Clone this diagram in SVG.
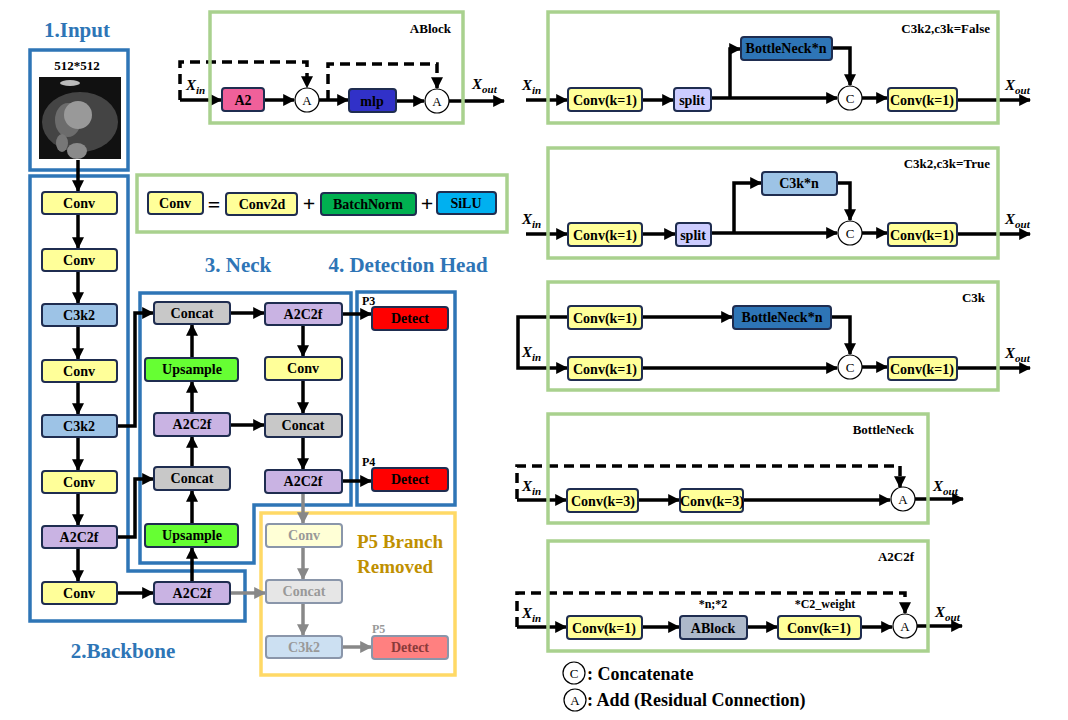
<svg xmlns="http://www.w3.org/2000/svg" width="1068" height="720" viewBox="0 0 1068 720" font-family="'Liberation Serif','Times New Roman','DejaVu Serif',serif">
<style>
text{font-family:"Liberation Serif","Times New Roman","DejaVu Serif",serif;font-weight:bold;fill:#000}
.n{stroke:#1f2d50;stroke-width:2}
.t{font-size:14px;text-anchor:middle}
.f{stroke:#8a96aa;stroke-width:2}
.ft{font-size:14px;text-anchor:middle;fill:#999}
.sec{font-size:21px;fill:#2E75B6;text-anchor:middle}
.bb{fill:none;stroke:#2E75B6;stroke-width:3.5}
.gb{fill:none;stroke:#A9D18E;stroke-width:3.5}
.ttl{font-size:13px;text-anchor:end}
.c{fill:none;stroke:#000;stroke-width:3.5}
.cg{fill:none;stroke:#888;stroke-width:3.5}
.d{fill:none;stroke:#000;stroke-width:3.5;stroke-dasharray:10 6}
.ci{fill:#fff;stroke:#000;stroke-width:1.2}
.ct{font-size:13px;font-weight:normal;text-anchor:middle}
.x{font-size:15px;font-style:italic}
.conv{fill:#FFFF99}.c3{fill:#9DC3E6}.a2{fill:#C9B3E3}.cat{fill:#C8C8C8}.up{fill:#66FF33}.det{fill:#FF0000}
</style>
<defs>
<marker id="ah" viewBox="0 0 10 10" refX="9" refY="5" markerUnits="userSpaceOnUse" markerWidth="12" markerHeight="12" orient="auto"><path d="M0,0L10,5L0,10z" fill="#000"/></marker>
<marker id="ag" viewBox="0 0 10 10" refX="9" refY="5" markerUnits="userSpaceOnUse" markerWidth="12" markerHeight="12" orient="auto"><path d="M0,0L10,5L0,10z" fill="#888"/></marker>
</defs>

<text class="sec" x="77" y="37">1.Input</text>
<text class="sec" x="123" y="658">2.Backbone</text>
<text class="sec" x="238" y="272">3. Neck</text>
<text class="sec" x="408" y="272">4. Detection Head</text>
<rect class="bb" x="30" y="50" width="98" height="120"/>
<path class="bb" d="M30,176H128V571H245V621H30Z"/>
<path class="bb" d="M140,293H351V505H254V563H140Z"/>
<rect class="bb" x="357" y="292" width="98" height="213"/>
<rect x="261" y="513" width="194" height="162" fill="none" stroke="#FFD966" stroke-width="3.5"/>

<g id="input">
<text x="77" y="70" font-size="13" text-anchor="middle">512*512</text>
<rect x="39" y="77" width="82" height="82" fill="#111"/>
<ellipse cx="80" cy="122" rx="38" ry="30" fill="#444"/>
<ellipse cx="68" cy="120" rx="13" ry="17" fill="#6c6c6c"/>
<circle cx="78" cy="115" r="14" fill="#999"/>
<ellipse cx="77" cy="151" rx="10" ry="8" fill="#8a8a8a"/>
<ellipse cx="70" cy="83" rx="10" ry="3" fill="#bbb"/>
<ellipse cx="62" cy="143" rx="6" ry="9" fill="#777"/>
</g>

<g id="connectors">
<path class="c" marker-end="url(#ah)" d="M78,160V191"/>
<path class="c" marker-end="url(#ah)" d="M78,214V248"/>
<path class="c" marker-end="url(#ah)" d="M78,271V303"/>
<path class="c" marker-end="url(#ah)" d="M78,326V359"/>
<path class="c" marker-end="url(#ah)" d="M78,382V414"/>
<path class="c" marker-end="url(#ah)" d="M78,437V470"/>
<path class="c" marker-end="url(#ah)" d="M78,493V525"/>
<path class="c" marker-end="url(#ah)" d="M78,548V581"/>
<path class="c" marker-end="url(#ah)" d="M117,426H135V313H153"/>
<path class="c" marker-end="url(#ah)" d="M117,537H135V479H153"/>
<path class="c" marker-end="url(#ah)" d="M117,593H153"/>
<path class="c" marker-end="url(#ah)" d="M192,582V548"/>
<path class="c" marker-end="url(#ah)" d="M192,524V491"/>
<path class="c" marker-end="url(#ah)" d="M192,467V437"/>
<path class="c" marker-end="url(#ah)" d="M192,413V382"/>
<path class="c" marker-end="url(#ah)" d="M192,358V325"/>
<path class="c" marker-end="url(#ah)" d="M230,313H264"/>
<path class="c" marker-end="url(#ah)" d="M230,425H264"/>
<path class="c" marker-end="url(#ah)" d="M303,325V356"/>
<path class="c" marker-end="url(#ah)" d="M303,380V413"/>
<path class="c" marker-end="url(#ah)" d="M303,437V469"/>
<path class="c" marker-end="url(#ah)" d="M342,314H371"/>
<path class="c" marker-end="url(#ah)" d="M342,481H371"/>
<path class="cg" marker-end="url(#ag)" d="M303,493V523"/>
<path class="cg" marker-end="url(#ag)" d="M303,547V579"/>
<path class="cg" marker-end="url(#ag)" d="M303,603V635"/>
<path class="cg" marker-end="url(#ag)" d="M342,647H371"/>
<path class="cg" marker-end="url(#ag)" d="M230,593H265"/>
<path class="d" marker-end="url(#ah)" d="M180,100V62H307V87"/>
<path class="c" marker-end="url(#ah)" d="M180,100H221"/>
<path class="c" marker-end="url(#ah)" d="M265,100H294"/>
<path class="c" marker-end="url(#ah)" d="M319,100H348"/>
<path class="d" marker-end="url(#ah)" d="M328,100V64H437V88"/>
<path class="c" marker-end="url(#ah)" d="M397,101H424"/>
<path class="c" marker-end="url(#ah)" d="M449,101H504"/>
<path class="c" marker-end="url(#ah)" d="M526,100H567"/>
<path class="c" marker-end="url(#ah)" d="M642,100H673"/>
<path class="c" marker-end="url(#ah)" d="M711,98H837"/>
<path class="c" marker-end="url(#ah)" d="M730,98V49H740"/>
<path class="c" marker-end="url(#ah)" d="M832,48H850V85"/>
<path class="c" marker-end="url(#ah)" d="M862,98H887"/>
<path class="c" marker-end="url(#ah)" d="M957,100H1030"/>
<path class="c" marker-end="url(#ah)" d="M526,234H567"/>
<path class="c" marker-end="url(#ah)" d="M642,234H675"/>
<path class="c" marker-end="url(#ah)" d="M711,233H837"/>
<path class="c" marker-end="url(#ah)" d="M734,233V183H761"/>
<path class="c" marker-end="url(#ah)" d="M837,183H850V220"/>
<path class="c" marker-end="url(#ah)" d="M862,233H887"/>
<path class="c" marker-end="url(#ah)" d="M957,234H1030"/>
<path class="c" marker-end="url(#ah)" d="M567,317H518V368H567"/>
<path class="c" marker-end="url(#ah)" d="M642,317H732"/>
<path class="c" marker-end="url(#ah)" d="M831,317H850V354"/>
<path class="c" marker-end="url(#ah)" d="M642,368H837"/>
<path class="c" marker-end="url(#ah)" d="M862,367H887"/>
<path class="c" marker-end="url(#ah)" d="M957,368H1030"/>
<path class="d" marker-end="url(#ah)" d="M517,499V466H900V487"/>
<path class="c" marker-end="url(#ah)" d="M517,500H566"/>
<path class="c" marker-end="url(#ah)" d="M638,500H679"/>
<path class="c" marker-end="url(#ah)" d="M743,500H890"/>
<path class="c" marker-end="url(#ah)" d="M915,499H963"/>
<path class="d" marker-end="url(#ah)" d="M517,627V593H905V613"/>
<path class="c" marker-end="url(#ah)" d="M517,627H566"/>
<path class="c" marker-end="url(#ah)" d="M642,627H679"/>
<path class="c" marker-end="url(#ah)" d="M747,627H777"/>
<path class="c" marker-end="url(#ah)" d="M861,627H892"/>
<path class="c" marker-end="url(#ah)" d="M917,626H962"/>
</g>

<g id="bb1"><rect class="n conv" x="42" y="192" width="75" height="22" rx="3"/><text class="t" x="79" y="208">Conv</text></g>
<g id="bb2"><rect class="n conv" x="42" y="249" width="75" height="22" rx="3"/><text class="t" x="79" y="265">Conv</text></g>
<g id="bb3"><rect class="n c3" x="42" y="304" width="75" height="22" rx="3"/><text class="t" x="79" y="320">C3k2</text></g>
<g id="bb4"><rect class="n conv" x="42" y="360" width="75" height="22" rx="3"/><text class="t" x="79" y="376">Conv</text></g>
<g id="bb5"><rect class="n c3" x="42" y="415" width="75" height="22" rx="3"/><text class="t" x="79" y="431">C3k2</text></g>
<g id="bb6"><rect class="n conv" x="42" y="471" width="75" height="22" rx="3"/><text class="t" x="79" y="487">Conv</text></g>
<g id="bb7"><rect class="n a2" x="42" y="526" width="75" height="22" rx="3"/><text class="t" x="79" y="542">A2C2f</text></g>
<g id="bb8"><rect class="n conv" x="42" y="582" width="75" height="22" rx="3"/><text class="t" x="79" y="598">Conv</text></g>
<g id="bb9"><rect class="n a2" x="154" y="582" width="76" height="22" rx="3"/><text class="t" x="192" y="598">A2C2f</text></g>
<g id="nk1"><rect class="n cat" x="154" y="302" width="76" height="22" rx="3"/><text class="t" x="192" y="318">Concat</text></g>
<g id="nk2"><rect class="n up" x="145" y="358" width="93" height="23" rx="3"/><text class="t" x="192" y="374">Upsample</text></g>
<g id="nk3"><rect class="n a2" x="154" y="413" width="76" height="23" rx="3"/><text class="t" x="192" y="429">A2C2f</text></g>
<g id="nk4"><rect class="n cat" x="154" y="467" width="76" height="23" rx="3"/><text class="t" x="192" y="483">Concat</text></g>
<g id="nk5"><rect class="n up" x="145" y="524" width="93" height="23" rx="3"/><text class="t" x="192" y="540">Upsample</text></g>
<g id="nk6"><rect class="n a2" x="265" y="303" width="77" height="22" rx="3"/><text class="t" x="303" y="319">A2C2f</text></g>
<g id="nk7"><rect class="n conv" x="265" y="357" width="77" height="23" rx="3"/><text class="t" x="303" y="373">Conv</text></g>
<g id="nk8"><rect class="n cat" x="265" y="414" width="77" height="23" rx="3"/><text class="t" x="303" y="430">Concat</text></g>
<g id="nk9"><rect class="n a2" x="265" y="470" width="77" height="23" rx="3"/><text class="t" x="303" y="486">A2C2f</text></g>
<text x="362" y="305" font-size="12">P3</text>
<text x="362" y="466" font-size="12">P4</text>
<g id="det3"><rect class="n det" x="372" y="307" width="76" height="23" rx="3"/><text class="t" x="410" y="323">Detect</text></g>
<g id="det4"><rect class="n det" x="372" y="468" width="76" height="23" rx="3"/><text class="t" x="410" y="484">Detect</text></g>
<g id="p5conv"><rect class="f" fill="#FFFFD6" x="266" y="524" width="76" height="23" rx="3"/><text class="ft" x="304" y="540">Conv</text></g>
<g id="p5cat"><rect class="f" fill="#E6E6E6" x="266" y="580" width="76" height="23" rx="3"/><text class="ft" x="304" y="596">Concat</text></g>
<g id="p5c3"><rect class="f" fill="#CCE0F2" x="266" y="636" width="76" height="22" rx="3"/><text class="ft" x="304" y="652">C3k2</text></g>
<g id="p5det"><rect class="f" fill="#FF8080" x="372" y="636" width="76" height="23" rx="3"/><text class="ft" x="410" y="652" style="fill:#8a3a3a">Detect</text></g>
<text x="372" y="633" font-size="12" style="fill:#999">P5</text>
<text x="400" y="548" font-size="19" text-anchor="middle" style="fill:#BF9000">P5 Branch</text>
<text x="395" y="573" font-size="19" text-anchor="middle" style="fill:#BF9000">Removed</text>

<g id="ablock">
<rect class="gb" x="210" y="12" width="253" height="111"/>
<text class="ttl" x="451" y="33">ABlock</text>
<text class="x" x="186" y="90">X<tspan font-size="11" dy="4">in</tspan></text>
<rect class="n" fill="#F0609A" x="222" y="88" width="42" height="23" rx="3"/><text class="t" x="243" y="105">A2</text>
<circle class="ci" cx="307" cy="100" r="12"/><text class="ct" x="307" y="105">A</text>
<rect class="n" fill="#3131C8" x="349" y="89" width="47" height="23" rx="3"/><text class="t" x="372" y="106">mlp</text>
<circle class="ci" cx="437" cy="101" r="12"/><text class="ct" x="437" y="106">A</text>
<text class="x" x="472" y="89">X<tspan font-size="11" dy="4">out</tspan></text>
</g>

<g id="convdef">
<rect class="gb" x="137" y="175" width="370" height="57"/>
<rect class="n conv" x="148" y="192" width="55" height="22" rx="3"/><text class="t" x="175" y="208">Conv</text>
<text x="214" y="212" font-size="22" text-anchor="middle">=</text>
<rect class="n conv" x="226" y="193" width="71" height="22" rx="3"/><text class="t" x="262" y="209">Conv2d</text>
<text x="309" y="211" font-size="22" text-anchor="middle" font-weight="normal">+</text>
<rect class="n" fill="#00B050" x="321" y="193" width="95" height="22" rx="3"/><text class="t" x="368" y="209">BatchNorm</text>
<text x="427" y="211" font-size="22" text-anchor="middle" font-weight="normal">+</text>
<rect class="n" fill="#00B0F0" x="437" y="192" width="59" height="22" rx="3"/><text class="t" x="466" y="208">SiLU</text>
</g>

<g id="c3k2f">
<rect class="gb" x="548" y="12" width="450" height="111"/>
<text class="ttl" x="990" y="33">C3k2,c3k=False</text>
<text class="x" x="522" y="90">X<tspan font-size="11" dy="4">in</tspan></text>
<rect class="n conv" x="568" y="88" width="74" height="23" rx="3"/><text class="t" x="605" y="105">Conv(k=1)</text>
<rect class="n" fill="#CCCCFF" x="674" y="88" width="37" height="23" rx="3"/><text class="t" x="692" y="105">split</text>
<rect class="n" fill="#2E75B6" x="741" y="37" width="91" height="23" rx="3"/><text class="t" x="786" y="53">BottleNeck*n</text>
<circle class="ci" cx="850" cy="98" r="12"/><text class="ct" x="850" y="103">C</text>
<rect class="n conv" x="888" y="88" width="69" height="23" rx="3"/><text class="t" x="922" y="105">Conv(k=1)</text>
<text class="x" x="1005" y="90">X<tspan font-size="11" dy="4">out</tspan></text>
</g>

<g id="c3k2t">
<rect class="gb" x="548" y="148" width="450" height="110"/>
<text class="ttl" x="990" y="168">C3k2,c3k=True</text>
<text class="x" x="522" y="224">X<tspan font-size="11" dy="4">in</tspan></text>
<rect class="n conv" x="568" y="223" width="74" height="23" rx="3"/><text class="t" x="605" y="240">Conv(k=1)</text>
<rect class="n" fill="#CCCCFF" x="676" y="223" width="35" height="23" rx="3"/><text class="t" x="693" y="240">split</text>
<rect class="n c3" x="762" y="172" width="75" height="23" rx="3"/><text class="t" x="799" y="188">C3k*n</text>
<circle class="ci" cx="850" cy="233" r="12"/><text class="ct" x="850" y="238">C</text>
<rect class="n conv" x="888" y="223" width="69" height="23" rx="3"/><text class="t" x="922" y="240">Conv(k=1)</text>
<text class="x" x="1005" y="224">X<tspan font-size="11" dy="4">out</tspan></text>
</g>

<g id="c3k">
<rect class="gb" x="548" y="282" width="450" height="108"/>
<text class="ttl" x="985" y="302">C3k</text>
<text class="x" x="522" y="357">X<tspan font-size="11" dy="4">in</tspan></text>
<rect class="n conv" x="568" y="306" width="74" height="23" rx="3"/><text class="t" x="605" y="323">Conv(k=1)</text>
<rect class="n" fill="#2E75B6" x="733" y="306" width="98" height="23" rx="3"/><text class="t" x="782" y="322">BottleNeck*n</text>
<rect class="n conv" x="568" y="357" width="74" height="23" rx="3"/><text class="t" x="605" y="374">Conv(k=1)</text>
<circle class="ci" cx="850" cy="367" r="12"/><text class="ct" x="850" y="372">C</text>
<rect class="n conv" x="888" y="357" width="69" height="23" rx="3"/><text class="t" x="922" y="374">Conv(k=1)</text>
<text class="x" x="1005" y="358">X<tspan font-size="11" dy="4">out</tspan></text>
</g>

<g id="bneck">
<rect class="gb" x="548" y="414" width="380" height="109"/>
<text class="ttl" x="914" y="434">BottleNeck</text>
<text class="x" x="522" y="491">X<tspan font-size="11" dy="4">in</tspan></text>
<rect class="n conv" x="567" y="489" width="71" height="23" rx="3"/><text class="t" x="603" y="506">Conv(k=3)</text>
<rect class="n conv" x="680" y="489" width="63" height="23" rx="3"/><text class="t" x="712" y="506">Conv(k=3)</text>
<circle class="ci" cx="903" cy="499" r="12"/><text class="ct" x="903" y="504">A</text>
<text class="x" x="933" y="491">X<tspan font-size="11" dy="4">out</tspan></text>
</g>

<g id="a2c2f">
<rect class="gb" x="548" y="541" width="380" height="110"/>
<text class="ttl" x="914" y="561">A2C2f</text>
<text class="x" x="522" y="618">X<tspan font-size="11" dy="4">in</tspan></text>
<rect class="n conv" x="567" y="616" width="75" height="23" rx="3"/><text class="t" x="604" y="633">Conv(k=1)</text>
<text x="713" y="608" font-size="12" text-anchor="middle">*n;*2</text>
<rect class="n" fill="#ADB9CA" x="680" y="616" width="67" height="23" rx="3"/><text class="t" x="713" y="633">ABlock</text>
<text x="825" y="608" font-size="12" text-anchor="middle">*C2_weight</text>
<rect class="n conv" x="778" y="616" width="83" height="23" rx="3"/><text class="t" x="819" y="633">Conv(k=1)</text>
<circle class="ci" cx="905" cy="626" r="12"/><text class="ct" x="905" y="631">A</text>
<text class="x" x="935" y="617">X<tspan font-size="11" dy="4">out</tspan></text>
</g>

<g id="legend">
<circle class="ci" cx="574" cy="673" r="11"/><text class="ct" x="574" y="678" font-size="12">C</text>
<text x="587" y="680" font-size="18">: Concatenate</text>
<circle class="ci" cx="575" cy="700" r="11"/><text class="ct" x="575" y="705" font-size="12">A</text>
<text x="587" y="706" font-size="18">: Add (Residual Connection)</text>
</g>
</svg>
